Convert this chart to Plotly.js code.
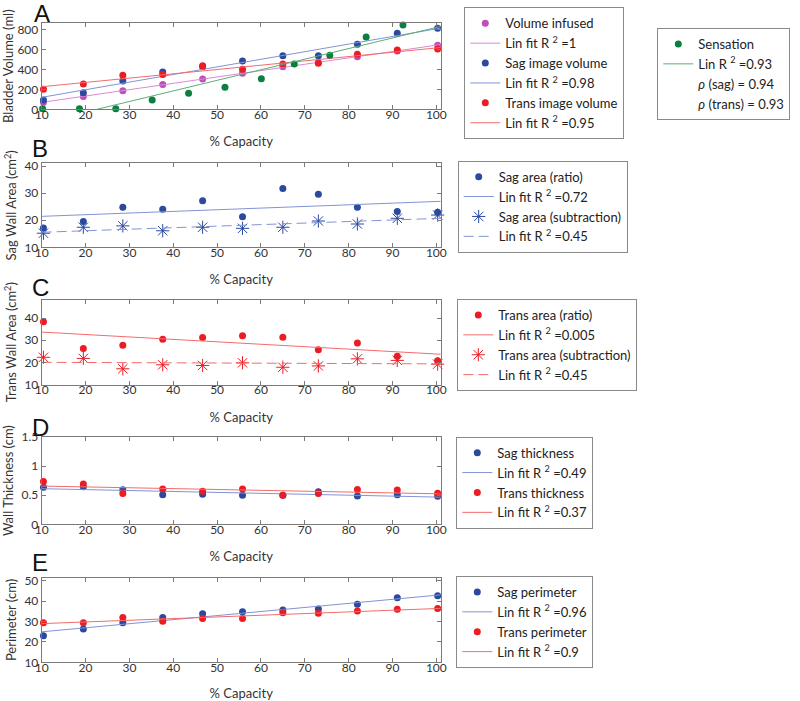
<!DOCTYPE html>
<html><head><meta charset="utf-8">
<script src="https://cdn.plot.ly/plotly-3.0.1.min.js"></script>
<style>body{margin:0;background:#fff;} #chart{width:800px;height:701px;}</style>
</head><body><div id="chart"></div>
<script>
// ---- data ----
const capacity      = [10.4, 19.5, 28.5, 37.6, 46.7, 55.8, 65.0, 73.1, 82.0, 91.1, 100.3];
// Panel A: bladder volume (ml)
const volInfused    = [70, 128, 188, 249, 306, 363, 430, 473, 530, 588, 645];
const sagVolume     = [94, 168, 286, 376, 430, 487, 541, 541, 655, 766, 817];
const transVolume   = [202, 255, 343, 350, 440, 403, 457, 464, 554, 598, 608];
const sensationX    = [10.2, 18.6, 26.9, 35.2, 43.5, 51.8, 60.1, 67.6, 75.7, 84.0, 92.4];
const sensationY    = [5, 5, 5, 94, 161, 222, 309, 457, 545, 730, 851];
// Panel B: sagittal wall area (cm^2)
const sagAreaRatio  = [17.1, 19.5, 24.8, 24.0, 27.2, 21.3, 31.7, 29.6, 24.8, 23.2, 22.9];
const sagAreaSub    = [15.2, 17.4, 17.9, 16.1, 17.4, 17.0, 17.4, 19.7, 18.6, 20.7, 21.9];
// Panel C: transverse wall area (cm^2)
const transAreaRatio= [38.4, 26.3, 27.8, 30.5, 31.2, 32.0, 31.4, 25.7, 28.8, 22.8, 20.7];
const transAreaSub  = [22.3, 21.8, 17.1, 18.9, 18.6, 19.8, 17.8, 18.4, 21.6, 20.9, 19.2];
// Panel D: wall thickness (cm)
const sagThick      = [0.635, 0.647, 0.594, 0.506, 0.518, 0.500, 0.500, 0.559, 0.488, 0.506, 0.480];
const transThick    = [0.735, 0.694, 0.530, 0.606, 0.570, 0.606, 0.500, 0.530, 0.600, 0.588, 0.535];
// Panel E: perimeter (cm)
const sagPerim      = [23.1, 26.4, 29.5, 32.0, 33.9, 34.9, 35.7, 36.2, 38.5, 41.8, 42.7];
const transPerim    = [29.5, 29.5, 32.0, 30.2, 31.5, 31.5, 34.4, 34.1, 35.2, 36.1, 36.4];
// axis ticks
const xTicks  = [10, 20, 30, 40, 50, 60, 70, 80, 90, 100];
const yTicksA = [0, 200, 400, 600, 800];
const yTicksB = [10, 20, 30, 40];
const yTicksC = [10, 20, 30, 40];
const yTicksD = [0, 0.5, 1, 1.5];
const yTicksE = [10, 20, 30, 40, 50];

// ---- styling ----
const FONT = 'Lato, "Open Sans", sans-serif';
const C = {
  magenta: '#BE4FB8', magentaL: '#DA8AD6',
  blue: '#2B4A9E', blueL: '#8293D6',
  red: '#EC1C24', redL: '#F36B6B',
  green: '#0B7F3F', greenL: '#5AAE74'
};
const XR = [10, 101];

function linfit(x, y) {
  const n = x.length;
  const mx = x.reduce((a, b) => a + b, 0) / n;
  const my = y.reduce((a, b) => a + b, 0) / n;
  let sxy = 0, sxx = 0;
  for (let i = 0; i < n; i++) { sxy += (x[i] - mx) * (y[i] - my); sxx += (x[i] - mx) ** 2; }
  const b = sxy / sxx;
  return { a: my - b * mx, b: b };
}
function pts(x, y, ax, color, name, leg, symbol) {
  const t = {
    type: 'scatter', mode: 'markers', x: x, y: y, xaxis: 'x' + ax, yaxis: 'y' + ax,
    name: name, legend: leg, hoverinfo: 'skip', cliponaxis: false,
    marker: { color: color, size: 7 }
  };
  if (symbol) {
    t.marker = { color: color, size: 11, symbol: symbol, line: { color: color, width: 1 } };
  }
  return t;
}
function fit(x, y, ax, color, name, leg, dash) {
  const f = linfit(x, y);
  return {
    type: 'scatter', mode: 'lines', x: XR, y: XR.map(v => f.a + f.b * v),
    xaxis: 'x' + ax, yaxis: 'y' + ax, name: name, legend: leg, hoverinfo: 'skip',
    line: { color: color, width: 1, dash: dash || 'solid' }
  };
}
function blank(name, leg) {
  return { type: 'scatter', mode: 'lines', x: [null], y: [null], xaxis: 'x', yaxis: 'y',
    name: name, legend: leg, hoverinfo: 'skip', line: { color: 'rgba(0,0,0,0)', width: 0 } };
}
const ax1 = '', ax2 = '2', ax3 = '3', ax4 = '4', ax5 = '5';
const R2 = v => 'Lin fit R <sup>2</sup> =' + v;

const traces = [
  pts(capacity, volInfused, ax1, C.magenta, 'Volume infused', 'legend'),
  fit(capacity, volInfused, ax1, C.magentaL, R2('1'), 'legend'),
  pts(capacity, sagVolume, ax1, C.blue, 'Sag image volume', 'legend'),
  fit(capacity, sagVolume, ax1, C.blueL, R2('0.98'), 'legend'),
  pts(capacity, transVolume, ax1, C.red, 'Trans image volume', 'legend'),
  fit(capacity, transVolume, ax1, C.redL, R2('0.95'), 'legend'),
  pts(sensationX, sensationY, ax1, C.green, 'Sensation', 'legend2'),
  fit(sensationX, sensationY, ax1, C.greenL, 'Lin R <sup>2</sup> =0.93', 'legend2'),
  blank('<i>ρ</i> (sag) = 0.94', 'legend2'),
  blank('<i>ρ</i> (trans) = 0.93', 'legend2'),

  pts(capacity, sagAreaRatio, ax2, C.blue, 'Sag area (ratio)', 'legend3'),
  fit(capacity, sagAreaRatio, ax2, C.blueL, R2('0.72'), 'legend3'),
  pts(capacity, sagAreaSub, ax2, C.blue, 'Sag area (subtraction)', 'legend3', 'asterisk-open'),
  fit(capacity, sagAreaSub, ax2, C.blueL, R2('0.45'), 'legend3', '10px,5px'),

  pts(capacity, transAreaRatio, ax3, C.red, 'Trans area (ratio)', 'legend4'),
  fit(capacity, transAreaRatio, ax3, C.redL, R2('0.005'), 'legend4'),
  pts(capacity, transAreaSub, ax3, C.red, 'Trans area (subtraction)', 'legend4', 'asterisk-open'),
  fit(capacity, transAreaSub, ax3, C.redL, R2('0.45'), 'legend4', '10px,5px'),

  pts(capacity, sagThick, ax4, C.blue, 'Sag thickness', 'legend5'),
  fit(capacity, sagThick, ax4, C.blueL, R2('0.49'), 'legend5'),
  pts(capacity, transThick, ax4, C.red, 'Trans thickness', 'legend5'),
  fit(capacity, transThick, ax4, C.redL, R2('0.37'), 'legend5'),

  pts(capacity, sagPerim, ax5, C.blue, 'Sag perimeter', 'legend6'),
  fit(capacity, sagPerim, ax5, C.blueL, R2('0.96'), 'legend6'),
  pts(capacity, transPerim, ax5, C.red, 'Trans perimeter', 'legend6'),
  fit(capacity, transPerim, ax5, C.redL, R2('0.9'), 'legend6')
];

// ---- layout ----
const W = 800, H = 701;
const xDom = [41.7 / W, 440.7 / W];
const panels = [
  { top: 23, bot: 109.3, range: [0, 870], ticks: yTicksA, title: 'Bladder Volume (ml)' },
  { top: 163.3, bot: 247.3, range: [10, 41], ticks: yTicksB, title: 'Sag Wall Area (cm<sup>2</sup>)' },
  { top: 300, bot: 384.5, range: [10, 48.2], ticks: yTicksC, title: 'Trans Wall Area (cm<sup>2</sup>)' },
  { top: 437, bot: 524.3, range: [0, 1.5], ticks: yTicksD, title: 'Wall Thickness (cm)' },
  { top: 577.7, bot: 662.3, range: [10, 51.6], ticks: yTicksE, title: 'Perimeter (cm)' }
];
const layout = {
  width: W, height: H, margin: { l: 0, r: 0, t: 0, b: 0 },
  paper_bgcolor: '#fff', plot_bgcolor: '#fff', showlegend: true,
  font: { family: FONT, color: '#262626' },
  annotations: [], 
};
const axCommon = {
  showline: true, linecolor: '#7a7a7a', linewidth: 1, mirror: 'ticks',
  ticks: 'inside', ticklen: 4, tickcolor: '#7a7a7a', tickwidth: 1,
  showgrid: false, zeroline: false, tickfont: { size: 12, color: '#333' },
  automargin: false, fixedrange: true
};
panels.forEach((p, i) => {
  const s = i === 0 ? '' : String(i + 1);
  layout['xaxis' + s] = Object.assign({}, axCommon, {
    domain: xDom, range: XR, tickvals: xTicks, anchor: 'y' + s, ticklabelstandoff: -6,
    title: { text: '% Capacity', font: { size: 13, color: '#333' }, standoff: 16 }
  });
  layout['yaxis' + s] = Object.assign({}, axCommon, {
    domain: [1 - p.bot / H, 1 - p.top / H], range: p.range, tickvals: p.ticks, anchor: 'x' + s,
    title: { text: p.title, font: { size: 13, color: '#333' }, standoff: 4 }
  });
});
const legBase = {
  xanchor: 'left', yanchor: 'top', bgcolor: '#fff', bordercolor: '#8a8a8a', borderwidth: 1,
  font: { family: FONT, size: 13, color: '#222' }, tracegroupgap: 0, itemwidth: 30
};
const legPos = [[464.3, 7.3], [657.3, 28], [457.7, 160.7], [457.3, 299], [456.3, 436.7], [456.3, 576]];
legPos.forEach((q, i) => {
  layout[i === 0 ? 'legend' : 'legend' + (i + 1)] = Object.assign({}, legBase, { x: q[0] / W, y: 1 - q[1] / H });
});
const letters = [['A', 42, 14], ['B', 40, 148], ['C', 40, 287], ['D', 40, 427], ['E', 40, 562]];
letters.forEach(l => layout.annotations.push({
  text: l[0], xref: 'paper', yref: 'paper', x: l[1] / W, y: 1 - l[2] / H,
  xanchor: 'center', yanchor: 'middle', showarrow: false,
  font: { family: '"Liberation Sans", Arial, sans-serif', size: 24, color: '#111' }
}));

Plotly.newPlot('chart', traces, layout, { displayModeBar: false, staticPlot: true });
</script>
</body></html>
